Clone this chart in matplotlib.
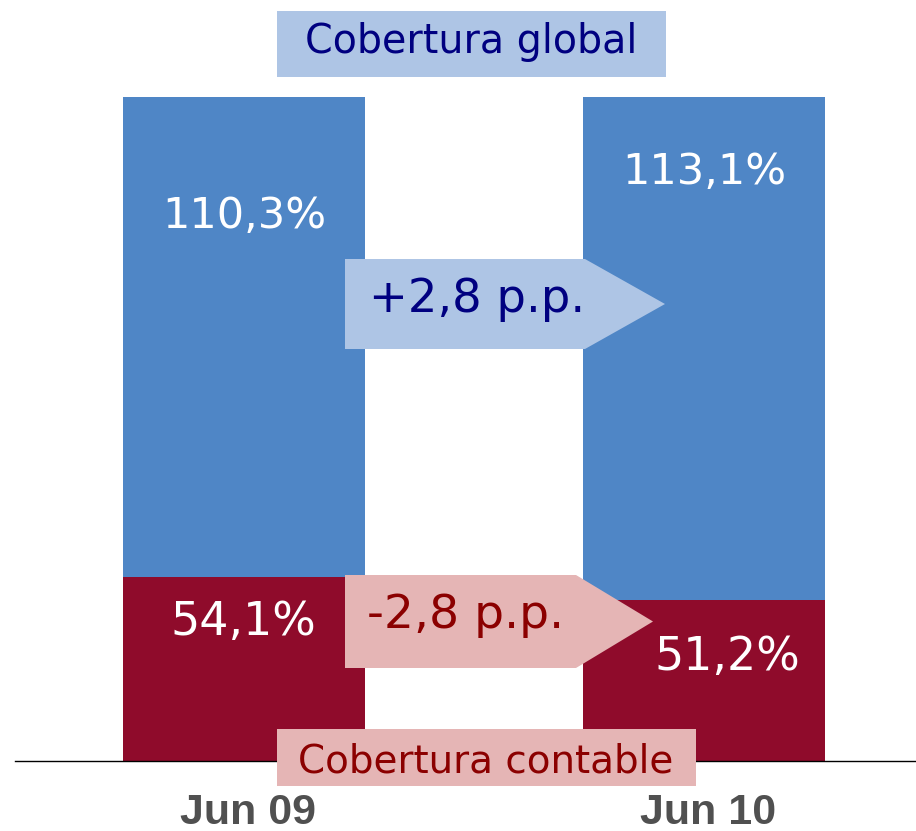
import matplotlib
matplotlib.use("Agg")
import matplotlib.pyplot as plt
from matplotlib.patches import Polygon, Rectangle
import matplotlib.transforms as mtransforms

# ---- data ----
categories = ["Jun 09", "Jun 10"]
cobertura_global = [110.3, 113.1]       # labelled values (%)
cobertura_contable = [54.1, 51.2]       # labelled values (%)
# schematic drawn heights (full bar = 100)
global_bar_height = [100.0, 100.0]
contable_bar_height = [27.7, 24.3]
global_change = "+2,8 p.p."
contable_change = "-2,8 p.p."
title_global = "Cobertura global"
title_contable = "Cobertura contable"

# ---- style ----
BLUE = "#4f86c6"
LIGHT_BLUE = "#aec5e5"
NAVY = "#000080"
RED = "#8f0b2b"
PINK = "#e5b5b5"
DARK_RED = "#8b0000"
GRAY = "#505050"

W, H = 916, 831
fig = plt.figure(figsize=(W / 100, H / 100), dpi=100)
ax = fig.add_axes([0, 0, 1, 1])
ax.set_axis_off()

# pixel layout: bar centers 244/704 px, width 242 px, baseline y=761, top y=97
px_per_unit_x = 460.0
px_per_unit_y = 664.0 / 100.0
ax.set_xlim(-244 / px_per_unit_x, (W - 244) / px_per_unit_x)
ax.set_ylim(-(H - 761) / px_per_unit_y, 761 / px_per_unit_y)

x = list(range(len(categories)))
bw = 242 / px_per_unit_x
ax.bar(x, global_bar_height, width=bw, color=BLUE, zorder=1)
ax.bar(x, contable_bar_height, width=bw, color=RED, zorder=2)
ax.axhline(0, xmin=15 / W, xmax=1, color="black", lw=1.0, zorder=3)


def fx(px):
    return px / W


def fy(py):
    return 1 - py / H


def fmt(v):
    return f"{v:.1f}".replace(".", ",") + "%"


ftf = fig.transFigure

# arrows
arrow1 = [(345, 259), (585, 259), (665, 304), (585, 349), (345, 349)]
arrow2 = [(345, 575), (576, 575), (653, 621.5), (576, 668), (345, 668)]
fig.patches.append(Polygon([(fx(a), fy(b)) for a, b in arrow1], closed=True,
                           facecolor=LIGHT_BLUE, edgecolor="none",
                           transform=ftf, zorder=4))
fig.patches.append(Polygon([(fx(a), fy(b)) for a, b in arrow2], closed=True,
                           facecolor=PINK, edgecolor="none",
                           transform=ftf, zorder=4))

# title boxes
fig.patches.append(Rectangle((fx(277), fy(77)), fx(666) - fx(277), fy(11) - fy(77),
                             facecolor=LIGHT_BLUE, edgecolor="none",
                             transform=ftf, zorder=4))
fig.patches.append(Rectangle((fx(277), fy(786)), fx(696) - fx(277), fy(729) - fy(786),
                             facecolor=PINK, edgecolor="none",
                             transform=ftf, zorder=4))

fam = ["DejaVu Sans"]
fig.text(fx(471), fy(53.5), title_global, color=NAVY, fontsize=28.5,
         ha="center", va="baseline", family=fam, zorder=5)
fig.text(fx(486), fy(772.5), title_contable, color=DARK_RED, fontsize=28,
         ha="center", va="baseline", family=fam, zorder=5)
fig.text(fx(369), fy(312), global_change, color=NAVY, fontsize=33.5,
         ha="left", va="baseline", family=fam, zorder=5)
fig.text(fx(367), fy(628), contable_change, color=DARK_RED, fontsize=34,
         ha="left", va="baseline", family=fam, zorder=5)

# value labels
global_pos = [(244, 228), (704.5, 184)]
contable_pos = [(243.5, 635), (727.5, 670)]
for v, (px, py) in zip(cobertura_global, global_pos):
    fig.text(fx(px), fy(py), fmt(v), color="white", fontsize=31,
             ha="center", va="baseline", family=fam, zorder=5)
for v, (px, py) in zip(cobertura_contable, contable_pos):
    fig.text(fx(px), fy(py), fmt(v), color="white", fontsize=33,
             ha="center", va="baseline", family=fam, zorder=5)

# category labels
off = mtransforms.offset_copy(ax.transData, fig=fig, x=4, y=0, units="dots")
blend = mtransforms.blended_transform_factory(off, ftf)
for xi, cat in zip(x, categories):
    ax.text(xi, fy(823.5), cat, transform=blend, color=GRAY, fontsize=31,
            fontweight="bold", ha="center", va="baseline",
            family=["Liberation Sans", "DejaVu Sans"], zorder=5)

fig.savefig("out.png", dpi=100)
